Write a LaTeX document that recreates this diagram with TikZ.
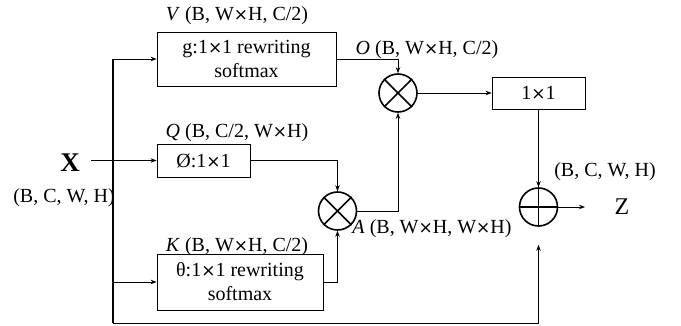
\documentclass[tikz,border=0pt]{standalone}
\usepackage{fontspec}
\setmainfont{Liberation Serif}
\newfontfamily\symfont[Scale=0.85]{DejaVu Sans}
\newcommand\tms{{\symfont ×}}
\usetikzlibrary{arrows.meta}
\begin{document}
\begin{tikzpicture}[x=1pt,y=-1pt,
  every node/.style={font=\fontsize{20}{24}\selectfont},
  box/.style={draw,line width=0.8pt,inner sep=0pt,align=center},
  lbl/.style={inner sep=0pt,anchor=center},
  opc/.style={draw,circle,line width=1.6pt,minimum size=38pt,inner sep=0pt},
  conn/.style={line width=0.8pt},
  arr/.style={line width=0.8pt,-{Stealth[length=6pt,width=4.5pt]}},
  trunk/.style={line width=1.3pt}]
\path[use as bounding box] (0,0) rectangle (681,326);
% boxes
\node[box,minimum width=179pt,minimum height=54pt] (V) at (246.5,59) {g:1\tms1 rewriting\\softmax};
\node[box,minimum width=93pt,minimum height=33pt] (Q) at (203.5,160.5) {Ø:1\tms1};
\node[box,minimum width=166pt,minimum height=56pt] (K) at (240,282) {θ:1\tms1 rewriting\\softmax};
\node[box,minimum width=93pt,minimum height=32pt] (C) at (538.5,93) {1\tms1};
% operators
\node[opc] (T1) at (398,93) {};
\node[opc] (T2) at (337.5,211) {};
\node[opc] (P) at (538.5,207) {};
\draw[line width=1.6pt] (T1.north east) -- (T1.south west) (T1.north west) -- (T1.south east);
\draw[line width=1.6pt] (T2.north east) -- (T2.south west) (T2.north west) -- (T2.south east);
\draw[line width=1.6pt] (P.north) -- (P.south) (P.west) -- (P.east);
% labels
\node[lbl] (Vl) at (237,16) {\textit{V} (B, W\tms H, C/2)};
\node[lbl] (Ql) at (237,133) {\textit{Q} (B, C/2, W\tms H)};
\node[lbl] (Kl) at (237,247) {\textit{K} (B, W\tms H, C/2)};
\node[lbl] (Ol) at (427,50) {\textit{O} (B, W\tms H, C/2)};
\node[lbl] (Al) at (432,229) {\textit{A} (B, W\tms H, W\tms H)};
\node[lbl] (Zl) at (605,172) {(B, C, W, H)};
\node[lbl,font=\fontsize{27}{28}\selectfont\bfseries] (X) at (70,163) {X};
\node[lbl] (Xl) at (64,198) {(B, C, W, H)};
\node[lbl,font=\fontsize{24}{26}\selectfont] (Z) at (622,207) {Z};
% coordinates
\coordinate (Xs) at (91,160.5);
\coordinate (tTop) at (113,59);
\coordinate (tBot) at (113,323);
\coordinate (bR) at (538.5,323);
\coordinate (Ze) at (585,207);
% connectors
\draw[arr] (Xs) -- (Q.west);
\draw[trunk] (tTop) -- (tBot);
\draw[arr] (tTop) -- (V.west);
\draw[arr] (113,282) -- (K.west);
\draw[conn] (tBot) -- (bR);
\draw[arr,shorten >=18pt] (bR) -- (P.south);
\draw[arr] (V.east) -| (T1.north);
\draw[arr] (Q.east) -| (T2.north);
\draw[arr] (K.east) -| (T2.south);
\draw[arr] (T2.east) -| (T1.south);
\draw[arr] (T1.east) -- (C.west);
\draw[arr] (C.south) -- (P.north);
\draw[arr] (P.east) -- (Ze);
\end{tikzpicture}
\end{document}
